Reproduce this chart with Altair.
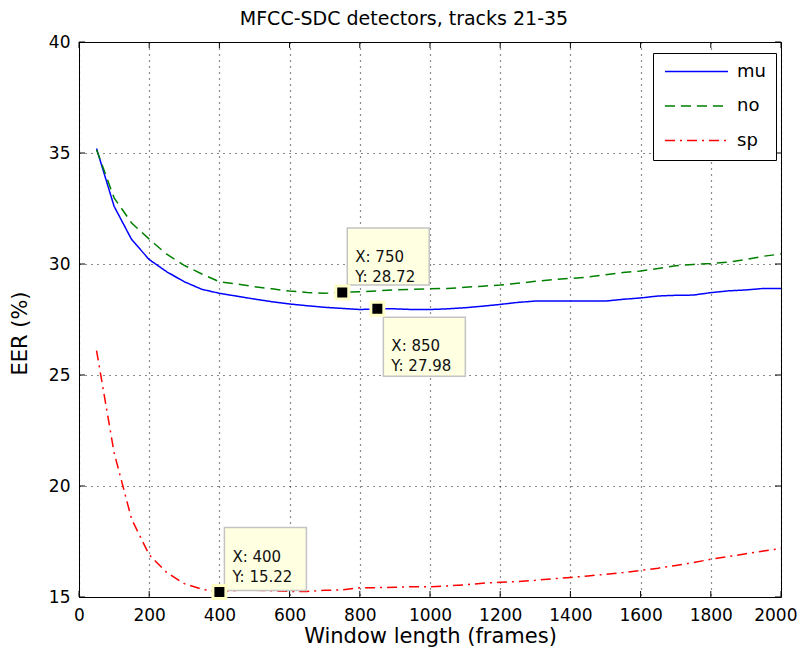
import altair as alt
import pandas as pd

# ---------------- data ----------------
window = [50, 100, 150, 200, 250, 300, 350, 400, 450, 500,
          550, 600, 650, 700, 750, 800, 850, 900, 950, 1000,
          1050, 1100, 1150, 1200, 1250, 1300, 1350, 1400, 1450, 1500,
          1550, 1600, 1650, 1700, 1750, 1800, 1850, 1900, 1950, 2000]

mu = [35.20, 32.60, 31.10, 30.20, 29.65, 29.20, 28.86, 28.68, 28.55, 28.42,
      28.30, 28.20, 28.12, 28.05, 28.00, 27.95, 27.98, 27.98, 27.95, 27.95,
      27.98, 28.03, 28.10, 28.18, 28.27, 28.33, 28.33, 28.33, 28.33, 28.33,
      28.41, 28.47, 28.56, 28.59, 28.60, 28.71, 28.79, 28.83, 28.90, 28.90]

no = [35.15, 32.98, 31.85, 31.12, 30.44, 29.94, 29.55, 29.20, 29.10, 28.98,
      28.88, 28.78, 28.72, 28.68, 28.72, 28.75, 28.79, 28.83, 28.86, 28.88,
      28.90, 28.95, 29.00, 29.05, 29.13, 29.22, 29.30, 29.35, 29.41, 29.52,
      29.62, 29.68, 29.80, 29.92, 29.98, 30.02, 30.08, 30.20, 30.35, 30.45]

sp = [26.10, 21.50, 18.50, 16.90, 16.10, 15.60, 15.35, 15.22, 15.30, 15.30,
      15.28, 15.25, 15.25, 15.30, 15.32, 15.42, 15.42, 15.44, 15.46, 15.46,
      15.50, 15.55, 15.62, 15.66, 15.70, 15.75, 15.82, 15.88, 15.95, 16.02,
      16.10, 16.20, 16.30, 16.42, 16.55, 16.70, 16.82, 16.95, 17.07, 17.18]

series_names = ["mu", "no", "sp"]
series_colors = ["#0000FF", "#008000", "#FF0000"]
series_dash = [[1, 0], [10, 6], [10, 5, 2, 5]]

tip_x = [750, 850, 400]
tip_y = [28.72, 27.98, 15.22]

x_ticks = [0, 200, 400, 600, 800, 1000, 1200, 1400, 1600, 1800, 2000]
y_ticks = [15, 20, 25, 30, 35, 40]

# ---------------- styling (not data) ----------------
W, H = 702, 555
FONT = "DejaVu Sans"
# per-tip: box center offset (dx, dy), box height, text offset (dx, dy)
tip_style = [
    dict(bx=46, by=-36, bh=57, tx=13, ty=-35),
    dict(bx=47, by=38, bh=59, tx=14, ty=37),
    dict(bx=46, by=-33, bh=63, tx=13, ty=-35),
]
BOX_W = 82

rows = []
for name, vals in zip(series_names, [mu, no, sp]):
    for w, v in zip(window, vals):
        rows.append({"window": w, "eer": v, "series": name})
df = pd.DataFrame(rows)

xscale = alt.Scale(domain=[0, 2000], nice=False, zero=False)
yscale = alt.Scale(domain=[15, 40], nice=False, zero=False)

last_x = x_ticks[-1]
x_axis = alt.Axis(
    values=x_ticks, format="d", title="Window length (frames)",
    labelPadding=10, titlePadding=2, labelFlush=False, labelOverlap=False,
    labelAlign={"condition": {"test": f"datum.value == {last_x}", "value": "right"},
                "value": "center"},
    labelOffset={"condition": {"test": f"datum.value == {last_x}", "value": 16},
                 "value": 0},
)
y_axis = alt.Axis(values=y_ticks, format="d", title="EER (%)", labelPadding=9,
                  titleX=-59, titleY=291, titleAngle=270,
                  titleAlign="center", titleBaseline="middle")

X = alt.X("window:Q", scale=xscale, axis=x_axis)
Y = alt.Y("eer:Q", scale=yscale, axis=y_axis)

legend = alt.Legend(
    orient="none", legendX=574, legendY=11, title=None,
    symbolType="stroke", symbolSize=3969, symbolStrokeWidth=1.5,
    labelFont=FONT, labelFontSize=18, labelColor="black", labelOffset=8,
    padding=10, strokeColor="black", fillColor="white",
    clipHeight=17, rowPadding=15.5, symbolOffset=1,
)

lines = alt.Chart(df).mark_line(strokeWidth=1.5).encode(
    x=X, y=Y,
    color=alt.Color("series:N", scale=alt.Scale(domain=series_names, range=series_colors),
                    legend=legend),
    strokeDash=alt.StrokeDash("series:N", scale=alt.Scale(domain=series_names, range=series_dash),
                              legend=legend),
    order=alt.Order("window:Q"),
)

# inward tick marks (MATLAB style)
xt = pd.DataFrame({"window": x_ticks})
yt = pd.DataFrame({"eer": y_ticks})
tick_bottom = alt.Chart(xt).mark_rule(color="black", strokeWidth=1).encode(
    x=X, y=alt.value(H), y2=alt.value(H - 6))
tick_top = alt.Chart(xt).mark_rule(color="black", strokeWidth=1).encode(
    x=X, y=alt.value(0), y2=alt.value(6))
tick_left = alt.Chart(yt).mark_rule(color="black", strokeWidth=1).encode(
    y=Y, x=alt.value(0), x2=alt.value(6))
tick_right = alt.Chart(yt).mark_rule(color="black", strokeWidth=1).encode(
    y=Y, x=alt.value(W), x2=alt.value(W - 6))

layers = [lines, tick_bottom, tick_top, tick_left, tick_right]

for x0, y0, st in zip(tip_x, tip_y, tip_style):
    d = pd.DataFrame({"window": [x0], "eer": [y0],
                      "label": [f"X: {x0}\nY: {y0:.2f}"]})
    hy = st["bh"] / BOX_W
    path = f"M-1,-{hy:.4f}L1,-{hy:.4f}L1,{hy:.4f}L-1,{hy:.4f}Z"
    box = alt.Chart(d).mark_point(
        shape=path, size=BOX_W ** 2, filled=True, fill="#FFFFE1",
        stroke="#C4C4C4", strokeWidth=1.5, opacity=1,
        xOffset=st["bx"], yOffset=st["by"]).encode(x=X, y=Y)
    txt = alt.Chart(d).mark_text(
        align="left", baseline="middle", dx=st["tx"], dy=st["ty"],
        lineBreak="\n", lineHeight=20, font=FONT, fontSize=15,
        color="#111111").encode(text="label:N", x=X, y=Y)
    marker = alt.Chart(d).mark_square(
        size=169, fill="black", stroke="#FFFFC8", strokeWidth=3,
        opacity=1).encode(x=X, y=Y)
    layers += [box, txt, marker]

chart = alt.layer(*layers).properties(
    width=W, height=H,
    title=alt.TitleParams("MFCC-SDC detectors, tracks 21-35", font=FONT,
                          fontSize=19, fontWeight="normal", color="black",
                          anchor="middle", dx=-26, offset=4),
    autosize=alt.AutoSizeParams(type="none"),
    padding={"left": 71, "top": 34, "right": 17, "bottom": 50},
).configure_view(
    stroke="black", strokeWidth=1
).configure_axis(
    grid=True, gridColor="black", gridDash=[1, 5], gridWidth=1.2, gridOpacity=0.9,
    domain=False, ticks=False,
    labelFont=FONT, labelFontSize=17, labelColor="black",
    titleFont=FONT, titleFontSize=21, titleFontWeight="normal", titleColor="black",
)

chart.save("out.html", embed_options={"renderer": "svg", "actions": False})
